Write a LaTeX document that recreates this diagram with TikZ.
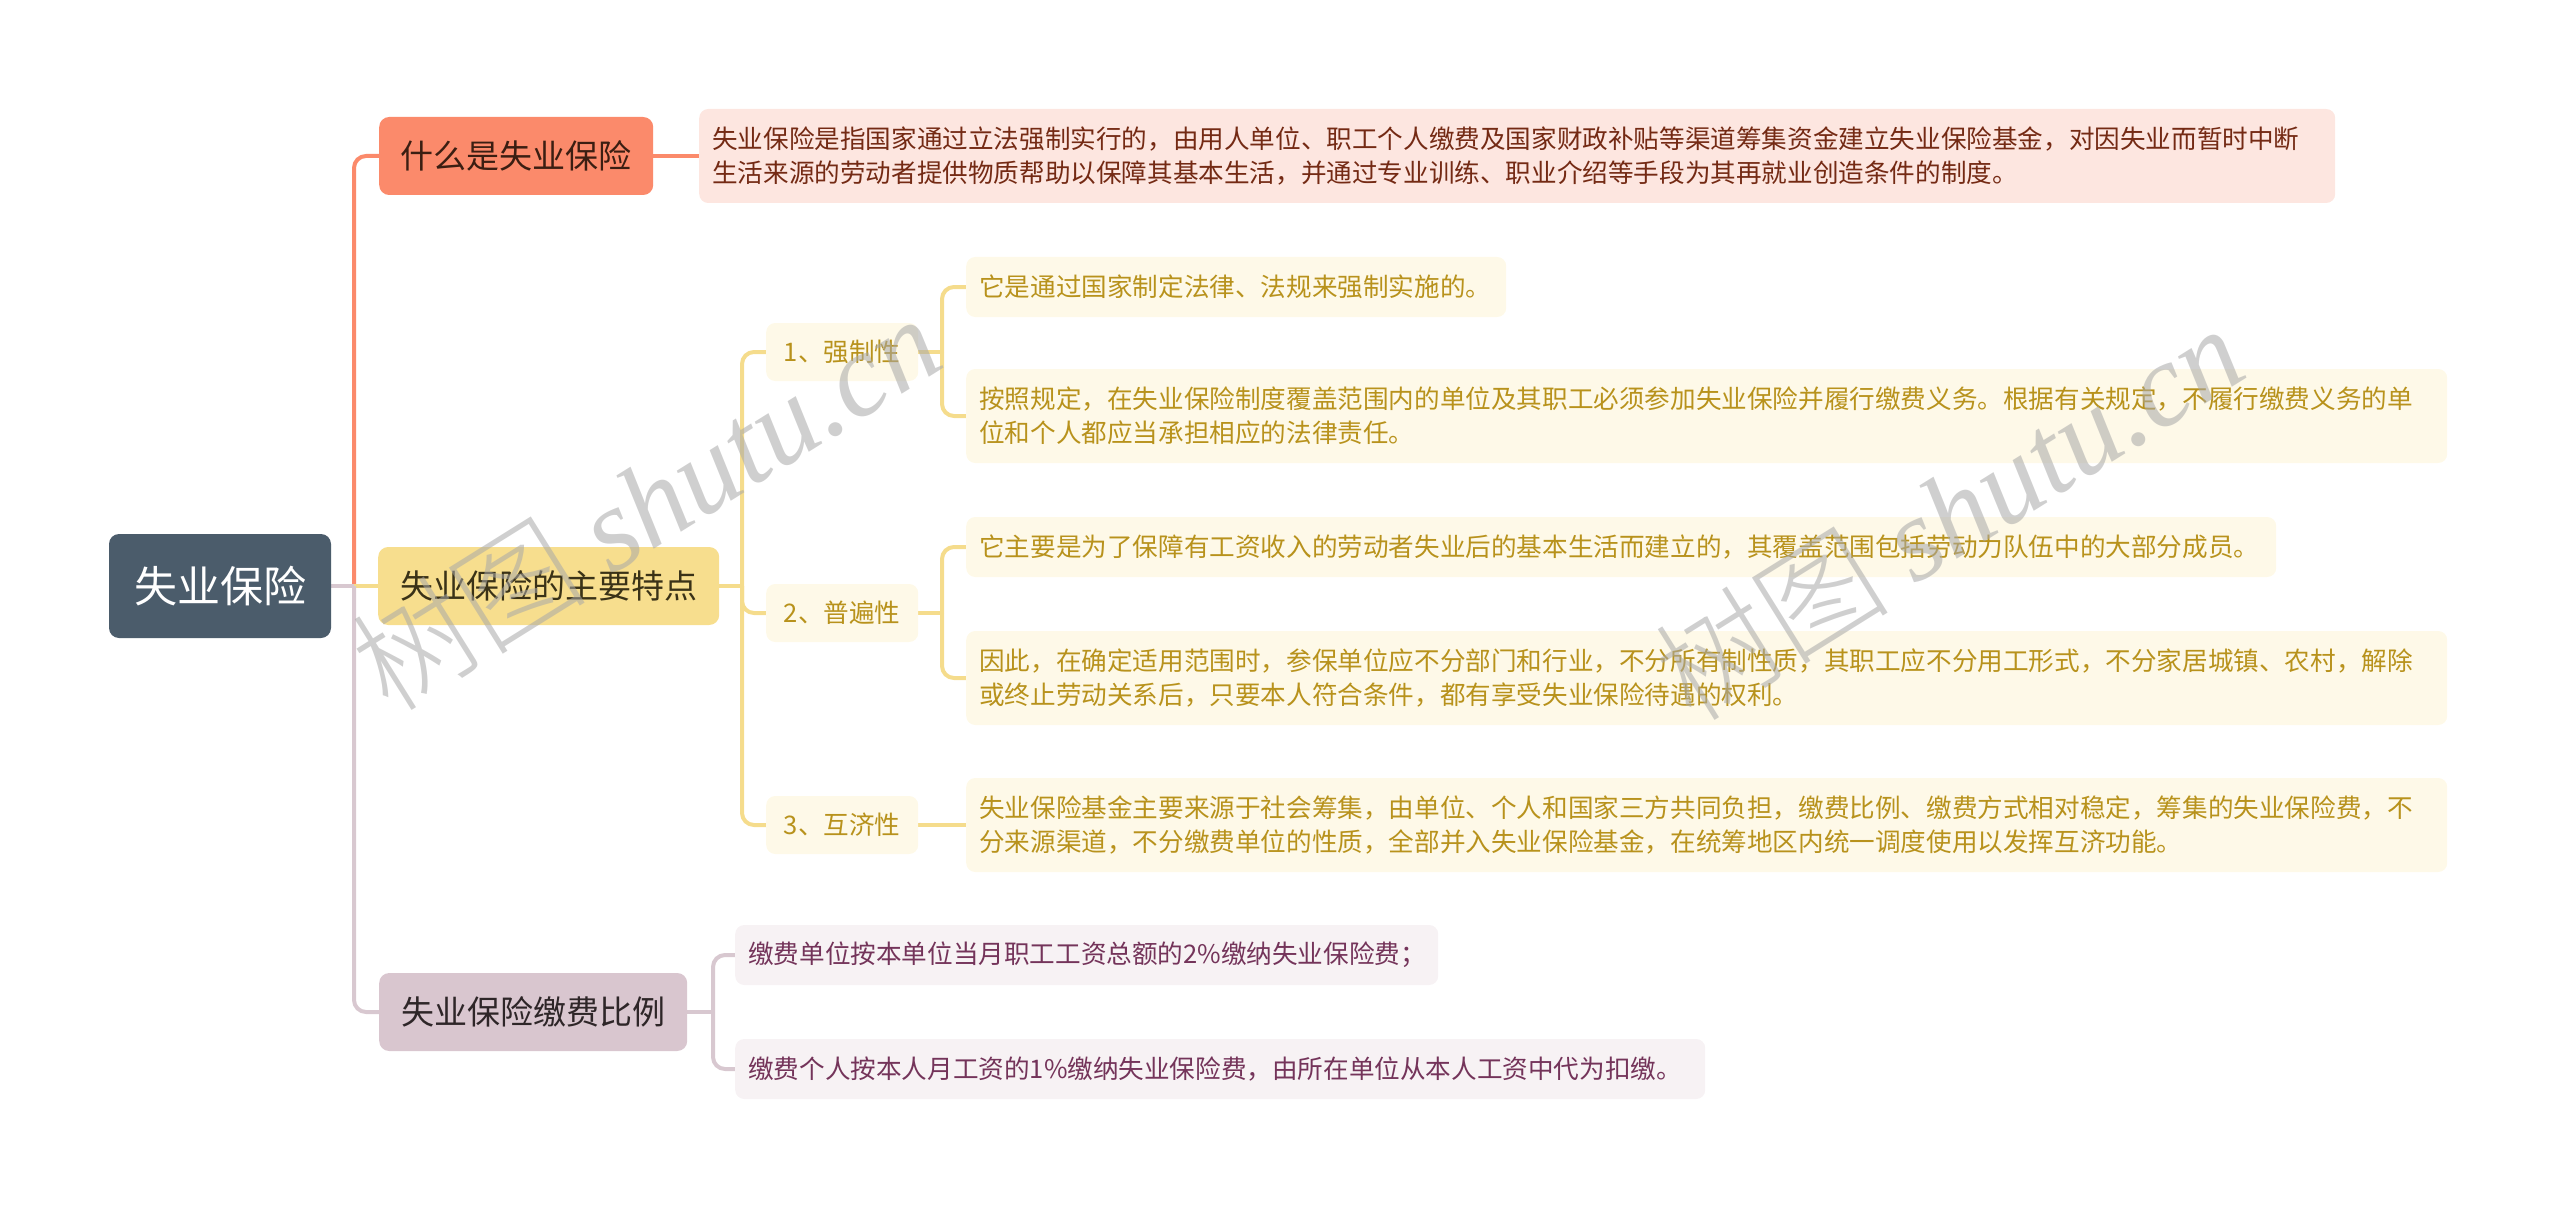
\documentclass[tikz,border=0pt]{standalone}
\usepackage{fontspec}
\setmainfont{Noto Sans CJK SC}
\newfontfamily\wmlat{Liberation Serif}
\newfontfamily\wmcjk{Noto Sans CJK SC Light}
\usetikzlibrary{backgrounds}
\definecolor{rootc}{HTML}{4B5C6B}
\definecolor{ca}{HTML}{FB8A6B}
\definecolor{catop}{HTML}{3B1E12}
\definecolor{cal}{HTML}{FDE6E0}
\definecolor{cat}{HTML}{742A14}
\definecolor{cb}{HTML}{F7DE8E}
\definecolor{cbtop}{HTML}{3A3217}
\definecolor{cbl}{HTML}{FEF9E8}
\definecolor{cbt}{HTML}{B8921C}
\definecolor{cbline}{HTML}{F5DC8C}
\definecolor{cc}{HTML}{D9C6CF}
\definecolor{cctop}{HTML}{2E2628}
\definecolor{ccl}{HTML}{F7F2F4}
\definecolor{cct}{HTML}{74345A}
\definecolor{ccline}{HTML}{D8C8D0}
\definecolor{wm}{HTML}{A8A8A8}
\tikzset{
  rootbox/.style={fill=rootc, rounded corners=10pt, text=white, font=\fontsize{43}{50}\selectfont, minimum width=222pt, minimum height=104pt, inner sep=0pt},
  topic/.style={rounded corners=10pt, font=\fontsize{33}{40}\selectfont, minimum height=78pt, inner sep=0pt, anchor=west},
  leaf/.style={rounded corners=9pt, font=\fontsize{25.6}{34}\selectfont, inner xsep=13pt, inner ysep=0pt, anchor=west, align=left},
  leafB/.style={leaf, fill=cbl, text=cbt},
  leafC/.style={leaf, fill=ccl, text=cct},
  subbox/.style={rounded corners=9pt, fill=cbl, text=cbt, font=\fontsize{25.6}{34}\selectfont, minimum width=152pt, minimum height=58pt, inner sep=0pt, anchor=west},
  oneline/.style={minimum height=60pt},
  twoline/.style={minimum height=94pt},
  link/.style={line width=4pt, rounded corners=12pt},
  wmark/.style={rotate=32, text=wm, opacity=0.55, font=\fontsize{118}{124}\selectfont, inner sep=0pt}
}
\begin{document}
\begin{tikzpicture}[x=1pt,y=-1pt]
\useasboundingbox (0,0) rectangle (2560,1209);
% root and main topics
\node[rootbox] (root) at (220,586) {失业保险};
\node[topic, fill=ca, text=catop, minimum width=274pt] (A) at (379,156) {什么是失业保险};
\node[topic, fill=cb, text=cbtop, minimum width=341pt] (B) at (378,586) {失业保险的主要特点};
\node[topic, fill=cc, text=cctop, minimum width=308pt] (C) at (379,1012) {失业保险缴费比例};
% A child
\node[leaf, twoline, fill=cal, text=cat, text width=1610pt] (desc) at (699,156)
  {失业保险是指国家通过立法强制实行的，由用人单位、职工个人缴费及国家财政补贴等渠道筹集资金建立失业保险基金，对因失业而暂时中断\\生活来源的劳动者提供物质帮助以保障其基本生活，并通过专业训练、职业介绍等手段为其再就业创造条件的制度。};
% B children
\node[subbox] (s1) at (766,352) {1、强制性};
\node[subbox] (s2) at (766,613) {2、普遍性};
\node[subbox] (s3) at (766,825) {3、互济性};
\node[leafB, oneline, text width=514pt] (l1a) at (966,287) {它是通过国家制定法律、法规来强制实施的。};
\node[leafB, twoline, text width=1455pt] (l1b) at (966,416)
  {按照规定，在失业保险制度覆盖范围内的单位及其职工必须参加失业保险并履行缴费义务。根据有关规定，不履行缴费义务的单\\位和个人都应当承担相应的法律责任。};
\node[leafB, oneline, text width=1284pt] (l2a) at (966,547) {它主要是为了保障有工资收入的劳动者失业后的基本生活而建立的，其覆盖范围包括劳动力队伍中的大部分成员。};
\node[leafB, twoline, text width=1455pt] (l2b) at (966,678)
  {因此，在确定适用范围时，参保单位应不分部门和行业，不分所有制性质，其职工应不分用工形式，不分家居城镇、农村，解除\\或终止劳动关系后，只要本人符合条件，都有享受失业保险待遇的权利。};
\node[leafB, twoline, text width=1455pt] (l3) at (966,825)
  {失业保险基金主要来源于社会筹集，由单位、个人和国家三方共同负担，缴费比例、缴费方式相对稳定，筹集的失业保险费，不\\分来源渠道，不分缴费单位的性质，全部并入失业保险基金，在统筹地区内统一调度使用以发挥互济功能。};
% C children
\node[leafC, oneline, text width=677pt] (c1) at (735,955) {缴费单位按本单位当月职工工资总额的2\%缴纳失业保险费；};
\node[leafC, oneline, text width=944pt] (c2) at (735,1069) {缴费个人按本人月工资的1\%缴纳失业保险费，由所在单位从本人工资中代为扣缴。};
% connectors
\begin{scope}[on background layer]
\coordinate (j0) at (354,586);
\draw[link, ca] (j0) |- (A.west);
\draw[link, cbline] (j0) -- (B.west);
\draw[link, ccline] (j0) |- (C.west);
\draw[link, ccline] (root.east) -- (j0);
\draw[link, ca] (A.east) -- (desc.west);
\coordinate (jb) at (742,586);
\draw[link, cbline] (B.east) -- (jb);
\draw[link, cbline] (jb) |- (s1.west);
\draw[link, cbline] (jb) |- (s2.west);
\draw[link, cbline] (jb) |- (s3.west);
\coordinate (j1) at (942,352);
\draw[link, cbline] (s1.east) -- (j1);
\draw[link, cbline] (j1) |- (l1a.west);
\draw[link, cbline] (j1) |- (l1b.west);
\coordinate (j2) at (942,613);
\draw[link, cbline] (s2.east) -- (j2);
\draw[link, cbline] (j2) |- (l2a.west);
\draw[link, cbline] (j2) |- (l2b.west);
\draw[link, cbline] (s3.east) -- (l3.west);
\coordinate (jc) at (713,1012);
\draw[link, ccline] (C.east) -- (jc);
\draw[link, ccline] (jc) |- (c1.west);
\draw[link, ccline] (jc) |- (c2.west);
\end{scope}
% watermarks
\node[wmark] (w1) at (645,502) {{\wmcjk 树图} {\wmlat\itshape shutu.cn}};
\node[wmark] (w2) at (1948,512) {{\wmcjk 树图} {\wmlat\itshape shutu.cn}};
\end{tikzpicture}
\end{document}
